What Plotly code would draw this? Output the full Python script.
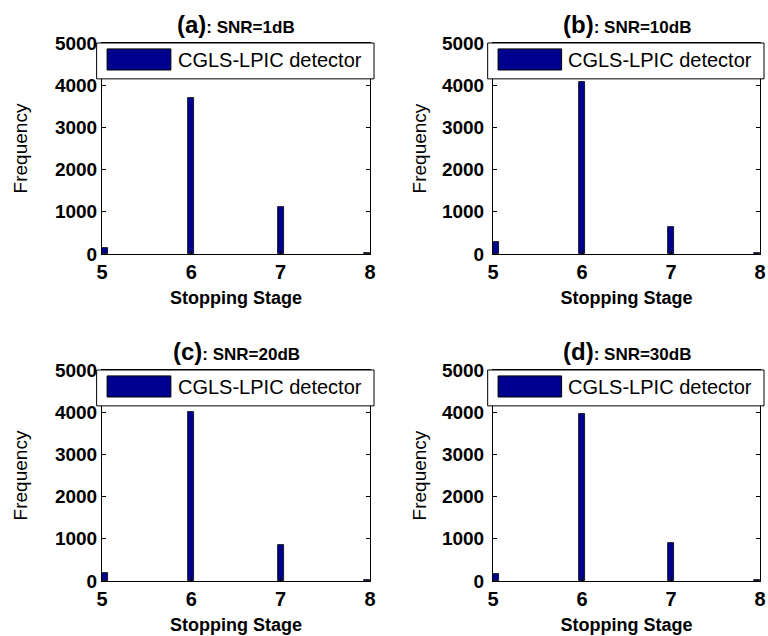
import plotly.graph_objects as go

# ---------------- data ----------------
stages = [5, 6, 7, 8]
panel_labels = ["(a)", "(b)", "(c)", "(d)"]
snr_labels = ["SNR=1dB", "SNR=10dB", "SNR=20dB", "SNR=30dB"]
freq_a = [150, 3700, 1120, 25]
freq_b = [290, 4070, 650, 25]
freq_c = [190, 4000, 860, 25]
freq_d = [160, 3950, 890, 25]
y_ticks = [0, 1000, 2000, 3000, 4000, 5000]
x_ticks = [5, 6, 7, 8]
series_name = "CGLS-LPIC detector"
x_title = "Stopping Stage"
y_title = "Frequency"

panels = [freq_a, freq_b, freq_c, freq_d]

# ---------------- layout geometry ----------------
W, H = 768, 636


def xf(px):
    return px / W


def yf(px):
    return 1 - px / H


x_dom = [[xf(102), xf(370)], [xf(493), xf(760)]]
y_dom = [[yf(254), yf(43)], [yf(581), yf(370)]]
ylab_pad = [0, 4]
ytitle_standoff = [22, 10]

FONT = "Arial, Liberation Sans, sans-serif"
BAR_COLOR = "#00008f"
bw = 0.065
offsets = [0, -bw / 2, -bw / 2, -bw]

fig = go.Figure()
annotations = []
shapes = []

for i, vals in enumerate(panels):
    n = "" if i == 0 else str(i + 1)
    row, col = divmod(i, 2)
    fig.add_trace(go.Bar(
        x=stages, y=vals, name=series_name,
        width=[bw] * len(stages), offset=offsets,
        marker=dict(color=BAR_COLOR, line=dict(color="black", width=0.8)),
        xaxis="x" + n, yaxis="y" + n, showlegend=False,
    ))
    fig.update_layout(**{
        "xaxis" + n: dict(
            domain=x_dom[col], anchor="y" + n, range=[5, 8], automargin=False,
            tickvals=x_ticks, ticks="inside", ticklen=4, tickcolor="black",
            showline=True, linecolor="black", linewidth=1, mirror="ticks",
            showgrid=False, zeroline=False,
            tickfont=dict(family=FONT, size=20, color="black", weight="bold"),
            ticklabelstandoff=0,
            title=dict(text=x_title, standoff=9,
                       font=dict(family=FONT, size=18, color="black", weight="bold")),
        ),
        "yaxis" + n: dict(
            domain=y_dom[row], anchor="x" + n, range=[0, 5000], automargin=False,
            tickvals=y_ticks, ticks="inside", ticklen=4, tickcolor="black",
            showline=True, linecolor="black", linewidth=1, mirror="ticks",
            showgrid=False, zeroline=False,
            tickfont=dict(family=FONT, size=19, color="black", weight="bold"),
            ticklabelstandoff=ylab_pad[col],
            title=dict(text=y_title, standoff=ytitle_standoff[col],
                       font=dict(family=FONT, size=19, color="black")),
        ),
    })
    xd = "x" + n + " domain"
    yd = "y" + n + " domain"
    # panel title
    annotations.append(dict(
        xref=xd, yref=yd, x=0.5, y=1.09, xanchor="center", yanchor="middle",
        showarrow=False,
        text="<b>%s</b><span style='font-size:17px'><b>: %s</b></span>" % (panel_labels[i], snr_labels[i]),
        font=dict(family=FONT, size=24, color="black"),
    ))
    # legend box
    shapes.append(dict(type="rect", xref=xd, yref=yd, x0=-0.02, x1=1.015, y0=0.83, y1=1.0,
                       line=dict(color="black", width=1), fillcolor="white", layer="above"))
    shapes.append(dict(type="rect", xref=xd, yref=yd, x0=0.019, x1=0.257, y0=0.872, y1=0.972,
                       line=dict(color="black", width=1), fillcolor=BAR_COLOR, layer="above"))
    annotations.append(dict(
        xref=xd, yref=yd, x=0.275, y=0.918, xanchor="left", yanchor="middle",
        showarrow=False, text=series_name,
        font=dict(family=FONT, size=20, color="black"),
    ))

fig.update_layout(
    width=W, height=H, margin=dict(l=0, r=0, t=0, b=0, autoexpand=False),
    paper_bgcolor="white", plot_bgcolor="white",
    bargap=0, annotations=annotations, shapes=shapes, showlegend=False,
)

fig.write_html(
    "out.html",
    config={"displayModeBar": False},
    post_script="document.body.style.margin='0';document.body.style.overflow='hidden';",
)
